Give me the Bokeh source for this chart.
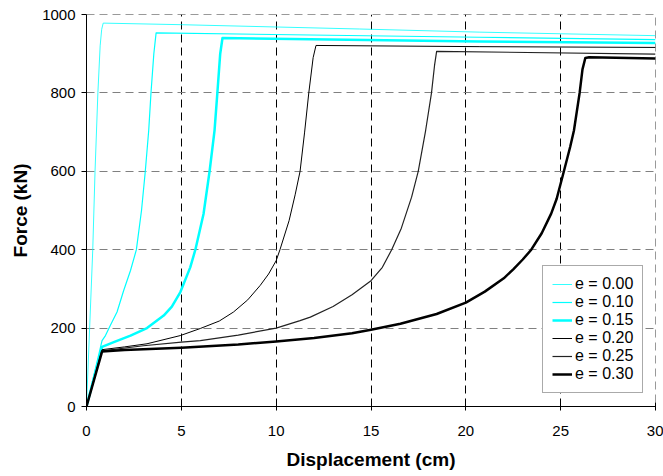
from bokeh.plotting import figure
from bokeh.models import Range1d, FixedTicker, Legend, LegendItem
from bokeh.embed import file_html
from bokeh.resources import INLINE

# Force-displacement curves for several eccentricities e
labels = ["e = 0.00", "e = 0.10", "e = 0.15", "e = 0.20", "e = 0.25", "e = 0.30"]

disp_e000 = [0, 0.33, 0.45, 0.6, 0.72, 0.8, 0.88, 5, 14.4, 20.7, 30]
force_e000 = [0, 400, 600, 800, 920, 962, 978, 974, 963, 955, 946]

disp_e010 = [0, 0.82, 1.0, 1.26, 1.61, 1.96, 2.32, 2.63, 2.9, 3.10, 3.28, 3.40, 3.55, 3.67, 20.7, 30]
force_e010 = [0, 168, 181, 207, 241, 296, 347, 400, 500, 600, 704, 800, 900, 953, 942, 936]

disp_e015 = [0, 0.82, 1.44, 2.32, 3.19, 4.07, 4.5, 4.95, 5.47, 5.74, 6.17, 6.49, 6.75, 6.9, 7.05, 7.17, 20.7, 30]
force_e015 = [0, 152, 164, 181, 200, 232, 255, 292, 355, 400, 491, 600, 704, 800, 900, 940, 931, 927]

disp_e020 = [0, 0.82, 2, 3.19, 4.95, 6.0, 7, 7.75, 8.5, 9.16, 9.6, 10.0, 10.2, 10.68, 11.0, 11.26, 11.5, 11.72, 11.95, 12.1, 20.7, 30]
force_e020 = [0, 145, 152, 160, 181, 199, 218, 241, 272, 309, 338, 372, 400, 474, 540, 600, 700, 800, 890, 921, 918, 916]

disp_e025 = [0, 0.82, 3, 5, 6, 8, 10, 11.26, 11.8, 13, 14, 15, 15.6, 16.09, 16.6, 17.14, 17.49, 17.88, 18.19, 18.35, 18.46, 30]
force_e025 = [0, 142, 155, 164, 168, 182, 200, 219, 228, 255, 285, 321, 355, 400, 455, 534, 600, 704, 800, 870, 906, 899]

disp_e030 = [0, 0.82, 2, 5, 8, 10, 12, 14, 15, 16.55, 18.46, 20, 21, 22, 22.5, 23, 23.45, 24, 24.5, 24.79, 25.17, 25.5, 25.7, 26.0, 26.15, 26.3, 26.5, 30]
force_e030 = [0, 140, 144, 150, 158, 166, 175, 187, 196, 211, 236, 265, 293, 327, 350, 375, 400, 442, 492, 530, 600, 662, 704, 800, 860, 889, 891, 888]

x_ticks = [0, 5, 10, 15, 20, 25, 30]
y_ticks = [0, 200, 400, 600, 800, 1000]

series = [
    (disp_e000, force_e000, "#00FFFF", 0.8),
    (disp_e010, force_e010, "#00FFFF", 1.2),
    (disp_e015, force_e015, "#00FFFF", 2.5),
    (disp_e020, force_e020, "#000000", 1.0),
    (disp_e025, force_e025, "#222222", 1.2),
    (disp_e030, force_e030, "#000000", 2.5),
]

FONT = "Liberation Sans"

p = figure(width=663, height=476, output_backend="svg", toolbar_location=None,
           x_range=Range1d(0, 30), y_range=Range1d(0, 1000),
           min_border_left=86, min_border_right=8, min_border_top=14, min_border_bottom=70)
p.background_fill_color = "white"
p.border_fill_color = "white"
p.outline_line_color = "#999999"
p.outline_line_dash = "8 5"

# grid: black dashed verticals, grey dashed horizontals
p.xgrid.ticker = FixedTicker(ticks=[5, 10, 15, 20, 25])
p.xgrid.grid_line_color = "black"
p.xgrid.grid_line_dash = "8 5"
p.xgrid.grid_line_width = 1
p.ygrid.ticker = FixedTicker(ticks=[200, 400, 600, 800])
p.ygrid.grid_line_color = "#808080"
p.ygrid.grid_line_dash = "8 5"
p.ygrid.grid_line_width = 1.2

# axes
p.xaxis.ticker = FixedTicker(ticks=x_ticks)
p.yaxis.ticker = FixedTicker(ticks=y_ticks)
for ax in (p.xaxis[0], p.yaxis[0]):
    ax.axis_line_color = "black"
    ax.major_tick_line_color = "black"
    ax.minor_tick_line_color = None
    ax.major_label_text_font = FONT
    ax.major_label_text_font_size = "15px"
    ax.major_label_text_color = "black"
    ax.axis_label_text_font = FONT
    ax.axis_label_text_font_size = "19px"
    ax.axis_label_text_font_style = "bold"
    ax.axis_label_text_color = "black"
p.xaxis.major_tick_in = 4
p.xaxis.major_tick_out = 4
p.xaxis.major_label_standoff = 15
p.xaxis.axis_label = "Displacement (cm)"
p.xaxis.axis_label_standoff = 10
p.yaxis.major_tick_in = 0
p.yaxis.major_tick_out = 5
p.yaxis.major_label_standoff = 6
p.yaxis.axis_label = "Force (kN)"
p.yaxis.axis_label_standoff = 8

items = []
for (xs, ys, color, lw), lab in zip(series, labels):
    r = p.line(xs, ys, line_color=color, line_width=lw, line_join="round")
    items.append(LegendItem(label=lab, renderers=[r]))

legend = Legend(items=items, location=(456, 13))
legend.border_line_color = "#555555"
legend.border_line_width = 1
legend.background_fill_color = "white"
legend.background_fill_alpha = 1
legend.label_text_font = FONT
legend.label_text_font_size = "16px"
legend.label_text_color = "black"
legend.padding = 9
legend.spacing = 0
legend.label_height = 18
legend.glyph_height = 18
legend.glyph_width = 20
legend.label_standoff = 3
legend.margin = 0
p.add_layout(legend)

open("out.html", "w").write(file_html(p, INLINE))
